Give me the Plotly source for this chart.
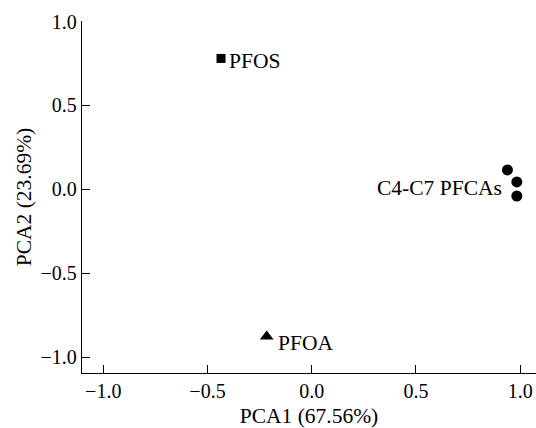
import plotly.graph_objects as go

# Data
pfos_x = [-0.435]
pfos_y = [0.78]
pfoa_x = [-0.216]
pfoa_y = [-0.875]
pfca_x = [0.939, 0.984, 0.984]
pfca_y = [0.116, 0.045, -0.039]
labels = ["PFOS", "PFOA", "C4-C7 PFCAs"]
x_ticks = [-1.0, -0.5, 0.0, 0.5, 1.0]
y_ticks = [-1.0, -0.5, 0.0, 0.5, 1.0]

FONT = "Liberation Serif"
LABEL_SIZE = 21.5

fig = go.Figure()
fig.add_trace(go.Scatter(x=pfos_x, y=pfos_y, mode="markers",
                         marker=dict(symbol="square", size=9, color="black"),
                         showlegend=False))
fig.add_trace(go.Scatter(x=pfoa_x, y=pfoa_y, mode="markers",
                         marker=dict(symbol="triangle-up", size=12, color="black"),
                         showlegend=False))
fig.add_trace(go.Scatter(x=pfca_x, y=pfca_y, mode="markers",
                         marker=dict(symbol="circle", size=11, color="black"),
                         showlegend=False))

fig.add_annotation(x=pfos_x[0], y=pfos_y[0], text=labels[0], showarrow=False,
                   xanchor="left", yanchor="middle", xshift=6, yshift=-3,
                   font=dict(family=FONT, size=LABEL_SIZE, color="black"))
fig.add_annotation(x=pfoa_x[0], y=pfoa_y[0], text=labels[1], showarrow=False,
                   xanchor="left", yanchor="middle", xshift=9, yshift=-7,
                   font=dict(family=FONT, size=LABEL_SIZE, color="black"))
fig.add_annotation(x=pfca_x[0], y=pfca_y[1], text=labels[2], showarrow=False,
                   xanchor="right", yanchor="middle", xshift=-3, yshift=-6,
                   font=dict(family=FONT, size=LABEL_SIZE, color="black"))

axis_common = dict(showgrid=False, zeroline=False, showline=True,
                   linecolor="black", linewidth=1.3, ticks="inside",
                   ticklen=8, tickwidth=1.3, tickcolor="black",
                   tickformat=".1f",
                   tickfont=dict(family=FONT, size=20, color="black"),
                   title_font=dict(family=FONT, size=LABEL_SIZE, color="black"))

fig.update_xaxes(range=[-1.102, 1.076], tickvals=x_ticks,
                 title_text="PCA1 (67.56%)", title_standoff=8, **axis_common)
fig.update_yaxes(range=[-1.093, 1.003], tickvals=y_ticks,
                 title_text="PCA2 (23.69%)", title_standoff=3, **axis_common)

fig.update_layout(width=536, height=428,
                  margin=dict(l=82, r=0, t=21, b=55, autoexpand=False),
                  plot_bgcolor="white", paper_bgcolor="white",
                  font=dict(family=FONT, size=20, color="black"))

fig.write_html("out.html", config={"displayModeBar": False},
               post_script="document.body.style.margin='0';document.body.style.overflow='hidden';")
